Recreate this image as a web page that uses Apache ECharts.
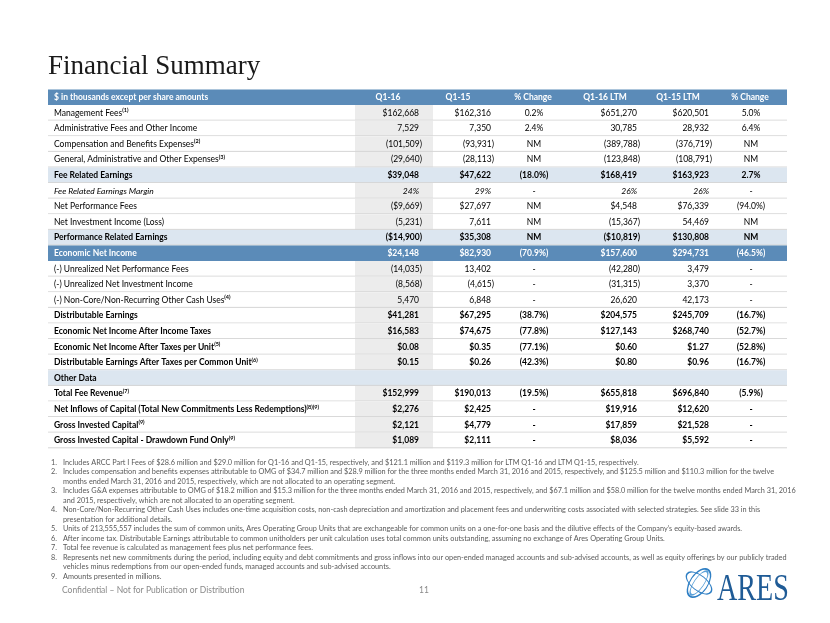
<!DOCTYPE html>
<html>
<head>
<meta charset="utf-8">
<script src="https://cdn.jsdelivr.net/npm/echarts@6/dist/echarts.min.js"></script>
<style>
html,body{margin:0;padding:0;background:#fff;}
#chart{width:830px;height:623px;}
</style>
</head>
<body>
<div id="chart"></div>
<script>
// ---------- DATA ----------
const headerLabels = ['$ in thousands except per share amounts', 'Q1-16', 'Q1-15', '% Change', 'Q1-16 LTM', 'Q1-15 LTM', '% Change'];
const rowLabels = [
  'Management Fees', 'Administrative Fees and Other Income', 'Compensation and Benefits Expenses',
  'General, Administrative and Other Expenses', 'Fee Related Earnings', 'Fee Related Earnings Margin',
  'Net Performance Fees', 'Net Investment Income (Loss)', 'Performance Related Earnings',
  'Economic Net Income', '(-) Unrealized Net Performance Fees', '(-) Unrealized Net Investment Income',
  '(-) Non-Core/Non-Recurring Other Cash Uses', 'Distributable Earnings',
  'Economic Net Income After Income Taxes', 'Economic Net Income After Taxes per Unit',
  'Distributable Earnings After Taxes per Common Unit', 'Other Data', 'Total Fee Revenue',
  'Net Inflows of Capital (Total New Commitments Less Redemptions)', 'Gross Invested Capital',
  'Gross Invested Capital - Drawdown Fund Only'
];
const rowNotes = ['(1)', '', '(2)', '(3)', '', '', '', '', '', '', '', '', '(4)', '', '', '(5)', '(6)', '', '(7)', '(8)(9)', '(9)', '(9)'];
const q116 = ['$162,668', '7,529', '(101,509)', '(29,640)', '$39,048', '24%', '($9,669)', '(5,231)', '($14,900)', '$24,148', '(14,035)', '(8,568)', '5,470', '$41,281', '$16,583', '$0.08', '$0.15', '', '$152,999', '$2,276', '$2,121', '$1,089'];
const q115 = ['$162,316', '7,350', '(93,931)', '(28,113)', '$47,622', '29%', '$27,697', '7,611', '$35,308', '$82,930', '13,402', '(4,615)', '6,848', '$67,295', '$74,675', '$0.35', '$0.26', '', '$190,013', '$2,425', '$4,779', '$2,111'];
const chgQ = ['0.2%', '2.4%', 'NM', 'NM', '(18.0%)', '-', 'NM', 'NM', 'NM', '(70.9%)', '-', '-', '-', '(38.7%)', '(77.8%)', '(77.1%)', '(42.3%)', '', '(19.5%)', '-', '-', '-'];
const ltm16 = ['$651,270', '30,785', '(389,788)', '(123,848)', '$168,419', '26%', '$4,548', '(15,367)', '($10,819)', '$157,600', '(42,280)', '(31,315)', '26,620', '$204,575', '$127,143', '$0.60', '$0.80', '', '$655,818', '$19,916', '$17,859', '$8,036'];
const ltm15 = ['$620,501', '28,932', '(376,719)', '(108,791)', '$163,923', '26%', '$76,339', '54,469', '$130,808', '$294,731', '3,479', '3,370', '42,173', '$245,709', '$268,740', '$1.27', '$0.96', '', '$696,840', '$12,620', '$21,528', '$5,592'];
const chgLtm = ['5.0%', '6.4%', 'NM', 'NM', '2.7%', '-', '(94.0%)', 'NM', 'NM', '(46.5%)', '-', '-', '-', '(16.7%)', '(52.7%)', '(52.8%)', '(16.7%)', '', '(5.9%)', '-', '-', '-'];
// row kinds: n normal, b bold, sub light-blue subtotal, it italic, tot dark-blue total, sec section
const rowKinds = ['n', 'n', 'n', 'n', 'sub', 'it', 'n', 'n', 'sub', 'tot', 'n', 'n', 'n', 'b', 'b', 'b', 'b', 'sec', 'b', 'b', 'b', 'b'];
const footnotes = [
  ['1.', 'Includes ARCC Part I Fees of $28.6 million and $29.0 million for Q1-16 and Q1-15, respectively, and $121.1 million and $119.3 million for LTM Q1-16 and LTM Q1-15, respectively.'],
  ['2.', 'Includes compensation and benefits expenses attributable to OMG of $34.7 million and $28.9 million for the three months ended March 31, 2016 and 2015, respectively, and $125.5 million and $110.3 million for the twelve'],
  ['', 'months ended March 31, 2016 and 2015, respectively, which are not allocated to an operating segment.'],
  ['3.', 'Includes G&A expenses attributable to OMG of $18.2 million and $15.3 million for the three months ended March 31, 2016 and 2015, respectively, and $67.1 million and $58.0 million for the twelve months ended March 31, 2016'],
  ['', 'and 2015, respectively, which are not allocated to an operating segment.'],
  ['4.', 'Non-Core/Non-Recurring Other Cash Uses includes one-time acquisition costs, non-cash depreciation and amortization and placement fees and underwriting costs associated with selected strategies. See slide 33 in this'],
  ['', 'presentation for additional details.'],
  ['5.', 'Units of 213,555,557 includes the sum of common units, Ares Operating Group Units that are exchangeable for common units on a one-for-one basis and the dilutive effects of the Company\u2019s equity-based awards.'],
  ['6.', 'After income tax. Distributable Earnings attributable to common unitholders per unit calculation uses total common units outstanding, assuming no exchange of Ares Operating Group Units.'],
  ['7.', 'Total fee revenue is calculated as management fees plus net performance fees.'],
  ['8.', 'Represents net new commitments during the period, including equity and debt commitments and gross inflows into our open-ended managed accounts and sub-advised accounts, as well as equity offerings by our publicly traded'],
  ['', 'vehicles minus redemptions from our open-ended funds, managed accounts and sub-advised accounts.'],
  ['9.', 'Amounts presented in millions.']
];

// ---------- LAYOUT / STYLE ----------
const TABLE_W = 739;
const FONT = 'Lato, "Open Sans", sans-serif';
const FS = 8.5;
const C_HEAD = '#5b8bb8', C_SUB = '#dce6f0', C_GRAY = '#ececec', C_LINE = '#d6d6d6';
const COL_LABEL = 6;
const COLS = [
  {src: q116, x: 374, align: 'right', hx: 340},
  {src: q115, x: 446, align: 'right', hx: 410},
  {src: chgQ, x: 486, align: 'center', hx: 485},
  {src: ltm16, x: 592, align: 'right', hx: 557},
  {src: ltm15, x: 664, align: 'right', hx: 630},
  {src: chgLtm, x: 703, align: 'center', hx: 702}
];
const GRAY_X0 = 307, GRAY_X1 = 385;

const yCats = ['header'].concat(rowLabels);

function renderRow(params, api) {
  const r = api.value(1);
  const p0 = api.coord([0, r]);
  const p1 = api.coord([TABLE_W, r]);
  const h = api.size([0, 1])[1];
  const top = p0[1] - h / 2;
  const cy = p0[1];
  const children = [];
  const isHeader = r === 0;
  const idx = r - 1;
  const kind = isHeader ? 'head' : rowKinds[idx];
  let fill = '#ffffff';
  if (kind === 'head' || kind === 'tot') fill = C_HEAD;
  else if (kind === 'sub' || kind === 'sec') fill = C_SUB;
  children.push({type: 'rect', shape: {x: p0[0], y: top, width: p1[0] - p0[0], height: h}, style: {fill: fill}});
  if (fill === '#ffffff') {
    const g0 = api.coord([GRAY_X0, r])[0], g1 = api.coord([GRAY_X1, r])[0];
    children.push({type: 'rect', shape: {x: g0, y: top, width: g1 - g0, height: h}, style: {fill: C_GRAY}});
  }
  if (!isHeader && kind !== 'tot') {
    children.push({type: 'line', shape: {x1: p0[0], y1: top + h - 0.5, x2: p1[0], y2: top + h - 0.5}, style: {stroke: C_LINE, lineWidth: 1}});
  }
  const white = kind === 'head' || kind === 'tot';
  const color = white ? '#ffffff' : '#000000';
  const weight = (kind === 'n' || kind === 'it') ? 'normal' : 'bold';
  const style = kind === 'it' ? 'italic' : 'normal';
  const rich = {
    a: {fontFamily: FONT, fontSize: FS, fontWeight: weight, fontStyle: style, fill: color, lineHeight: 11},
    s: {fontFamily: FONT, fontSize: 5.5, fontWeight: 'bold', fill: color, lineHeight: 11, verticalAlign: 'top', padding: [0, 0, 4, 0]}
  };
  if (isHeader) {
    children.push({type: 'text', x: api.coord([COL_LABEL, r])[0], y: cy, style: {text: headerLabels[0], fill: '#fff', font: 'bold ' + FS + 'px ' + FONT, verticalAlign: 'middle', align: 'left'}});
    COLS.forEach(function (c, i) {
      children.push({type: 'text', x: api.coord([c.hx, r])[0], y: cy, style: {text: headerLabels[i + 1], fill: '#fff', font: 'bold ' + FS + 'px ' + FONT, verticalAlign: 'middle', align: 'center'}});
    });
  } else {
    const note = rowNotes[idx];
    const label = '{a|' + rowLabels[idx] + '}' + (note ? '{s|' + note + '}' : '');
    children.push({type: 'text', x: api.coord([COL_LABEL, r])[0], y: cy, style: {text: label, rich: rich, verticalAlign: 'middle', align: 'left'}});
    COLS.forEach(function (c) {
      const v = c.src[idx];
      if (!v) return;
      let x = api.coord([c.x, r])[0];
      if (c.align === 'right' && v.charAt(v.length - 1) !== ')') x -= 3;
      const st = (kind === 'it' && v !== '-') ? 'italic ' : '';
      children.push({type: 'text', x: x, y: cy, style: {text: v, fill: color, font: st + weight + ' ' + FS + 'px ' + FONT, verticalAlign: 'middle', align: c.align}});
    });
  }
  return {type: 'group', children: children};
}

const graphics = [
  {type: 'text', left: 48, top: 53, style: {text: 'Financial Summary', font: '27px "Liberation Serif", serif', fill: '#1a1a1a'}},
  {type: 'text', left: 62, top: 586, style: {text: 'Confidential \u2013 Not for Publication or Distribution', font: '8.5px ' + FONT, fill: '#8a8a8a'}},
  {type: 'text', left: 419, top: 586, style: {text: '11', font: '8.5px ' + FONT, fill: '#8a8a8a'}},
  {type: 'group', x: 717, y: 571, scaleX: 0.74, children: [
    {type: 'text', x: 0, y: 0, style: {text: 'ARES', font: '38px "Liberation Serif", serif', fill: '#1f5b96'}}
  ]},
  {type: 'group', x: 699, y: 583, rotation: -0.6, children: [
    {type: 'circle', shape: {cx: 0, cy: 0, r: 16}, scaleX: 0.55, style: {fill: 'none', stroke: '#2f7fc4', lineWidth: 2}},
    {type: 'circle', shape: {cx: 0, cy: 0, r: 14}, scaleX: 0.35, style: {fill: 'none', stroke: '#5aa0d8', lineWidth: 2}}
  ]},
  {type: 'group', x: 699, y: 583, rotation: 0.9, children: [
    {type: 'circle', shape: {cx: 0, cy: 0, r: 15}, scaleX: 0.5, style: {fill: 'none', stroke: '#2f7fc4', lineWidth: 1.6}}
  ]}
];
footnotes.forEach(function (f, i) {
  const y = 459 + i * 9.5;
  if (f[0]) graphics.push({type: 'text', left: 51, top: y, style: {text: f[0], font: '7.3px ' + FONT, fill: '#5a5a5a'}});
  graphics.push({type: 'text', left: 63, top: y, style: {text: f[1], font: '7.3px ' + FONT, fill: '#5a5a5a'}});
});

const chart = echarts.init(document.getElementById('chart'), null, {renderer: 'canvas'});
chart.setOption({
  animation: false,
  backgroundColor: '#ffffff',
  grid: {left: 48, right: 43, top: 89.5, bottom: 174.7},
  xAxis: {type: 'value', min: 0, max: TABLE_W, show: false},
  yAxis: {type: 'category', inverse: true, data: yCats, show: false},
  series: [{
    type: 'custom',
    renderItem: renderRow,
    data: yCats.map(function (_, i) { return [0, i]; }),
    encode: {x: 0, y: 1},
    silent: true
  }],
  graphic: graphics
});
</script>
</body>
</html>
